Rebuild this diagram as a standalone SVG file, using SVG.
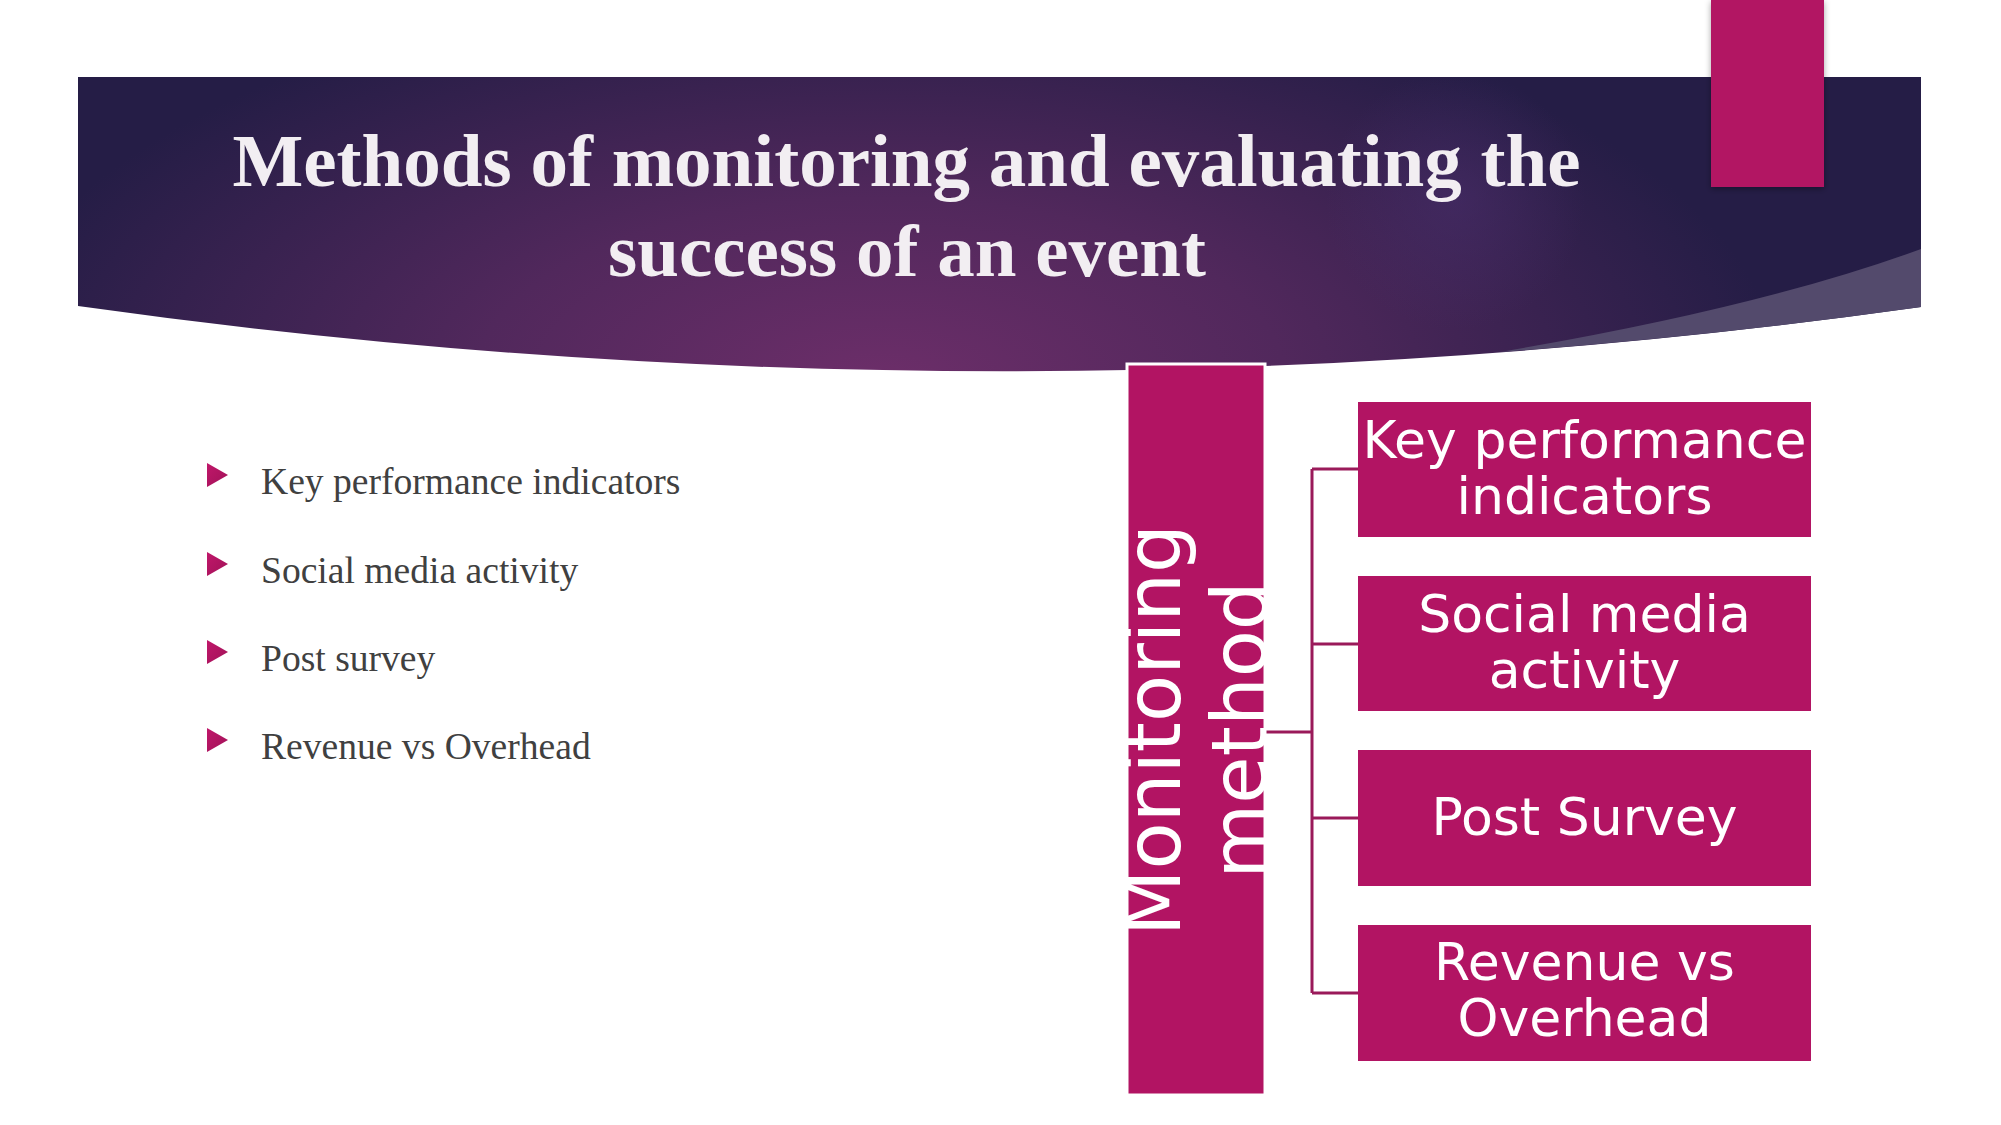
<svg xmlns="http://www.w3.org/2000/svg" width="2001" height="1125" viewBox="0 0 2001 1125">
  <defs>
    <radialGradient id="bannerGrad" gradientUnits="userSpaceOnUse" cx="880" cy="380" r="900" gradientTransform="translate(880 380) scale(1 0.45) translate(-880 -380)">
      <stop offset="0" stop-color="#6c2e69"/>
      <stop offset="0.45" stop-color="#51285c"/>
      <stop offset="1" stop-color="#251d46"/>
    </radialGradient>
    <radialGradient id="glow" gradientUnits="userSpaceOnUse" cx="1455" cy="200" r="130">
      <stop offset="0" stop-color="#4a2f6e" stop-opacity="0.5"/>
      <stop offset="1" stop-color="#4a2f6e" stop-opacity="0"/>
    </radialGradient>
    <linearGradient id="triGrad" x1="0" y1="0" x2="1" y2="1">
      <stop offset="0" stop-color="#c0176a"/>
      <stop offset="1" stop-color="#a11258"/>
    </linearGradient>
    <filter id="shadow" x="-20%" y="-10%" width="140%" height="130%">
      <feDropShadow dx="0" dy="2" stdDeviation="3" flood-color="#000" flood-opacity="0.35"/>
    </filter>
    <style>
      .title { font-family: "Liberation Serif", "Times New Roman", serif; font-weight: bold; font-size: 75px; fill: #f2eef2; text-anchor: middle; }
      .bullet { font-family: "Liberation Serif", "Times New Roman", serif; font-size: 37.6px; fill: #404040; }
      .tri { fill: url(#triGrad); }
      .box { fill: #b21463; }
      .boxtext { font-family: "DejaVu Sans", Verdana, sans-serif; font-size: 52px; fill: #ffffff; text-anchor: middle; }
      .vtext { font-family: "DejaVu Sans", Verdana, sans-serif; font-size: 77px; fill: #ffffff; text-anchor: middle; }
      .conn { fill: none; stroke: #9a1a5a; stroke-width: 3; }
    </style>
  </defs>

  <rect width="2001" height="1125" fill="#ffffff"/>

  <!-- Banner -->
  <g id="banner">
    <path d="M78 77 H1921 V307 Q1000 436 78 306 Z" fill="url(#bannerGrad)"/>
    <path d="M78 77 H1921 V307 Q1000 436 78 306 Z" fill="url(#glow)"/>
    <path d="M1500 352 Q1760 308 1921 249 V307 Q1715 336 1500 352 Z" fill="#534a6c"/>
    <rect x="1711" y="0" width="113" height="187" fill="#b21463" filter="url(#shadow)"/>
    <text class="title" x="906.5" y="186">Methods of monitoring and evaluating the</text>
    <text class="title" x="907" y="276">success of an event</text>
  </g>

  <!-- Bullet list -->
  <g id="bullets">
    <g id="bullet1">
      <polygon class="tri" points="207,463 228,475 207,487"/>
      <text class="bullet" x="261" y="494">Key performance indicators</text>
    </g>
    <g id="bullet2">
      <polygon class="tri" points="207,552 228,564 207,576"/>
      <text class="bullet" x="261" y="583">Social media activity</text>
    </g>
    <g id="bullet3">
      <polygon class="tri" points="207,640 228,652 207,664"/>
      <text class="bullet" x="261" y="671">Post survey</text>
    </g>
    <g id="bullet4">
      <polygon class="tri" points="207,728 228,740 207,752"/>
      <text class="bullet" x="261" y="759">Revenue vs Overhead</text>
    </g>
  </g>

  <!-- Connectors -->
  <g id="connectors">
    <path class="conn" d="M1265 732 H1312"/>
    <path class="conn" d="M1312 469 V993"/>
    <path class="conn" d="M1312 469 H1358"/>
    <path class="conn" d="M1312 644 H1358"/>
    <path class="conn" d="M1312 818 H1358"/>
    <path class="conn" d="M1312 993 H1358"/>
  </g>

  <!-- Root node -->
  <g id="node-root">
    <rect class="box" x="1127" y="364" width="138" height="731" stroke="#ffffff" stroke-width="3"/>
    <g transform="translate(1180 730) rotate(-90)">
      <text class="vtext" x="0" y="0">Monitoring</text>
      <text class="vtext" x="0" y="86">method</text>
    </g>
  </g>

  <!-- Child nodes -->
  <g id="node-kpi">
    <rect class="box" x="1358" y="402" width="453" height="135"/>
    <text class="boxtext" x="1584.5" y="458">Key performance</text>
    <text class="boxtext" x="1584.5" y="514">indicators</text>
  </g>
  <g id="node-social">
    <rect class="box" x="1358" y="576" width="453" height="135"/>
    <text class="boxtext" x="1584.5" y="632">Social media</text>
    <text class="boxtext" x="1584.5" y="688">activity</text>
  </g>
  <g id="node-survey">
    <rect class="box" x="1358" y="750" width="453" height="136"/>
    <text class="boxtext" x="1584.5" y="835">Post Survey</text>
  </g>
  <g id="node-revenue">
    <rect class="box" x="1358" y="925" width="453" height="136"/>
    <text class="boxtext" x="1584.5" y="980">Revenue vs</text>
    <text class="boxtext" x="1584.5" y="1036">Overhead</text>
  </g>
</svg>
